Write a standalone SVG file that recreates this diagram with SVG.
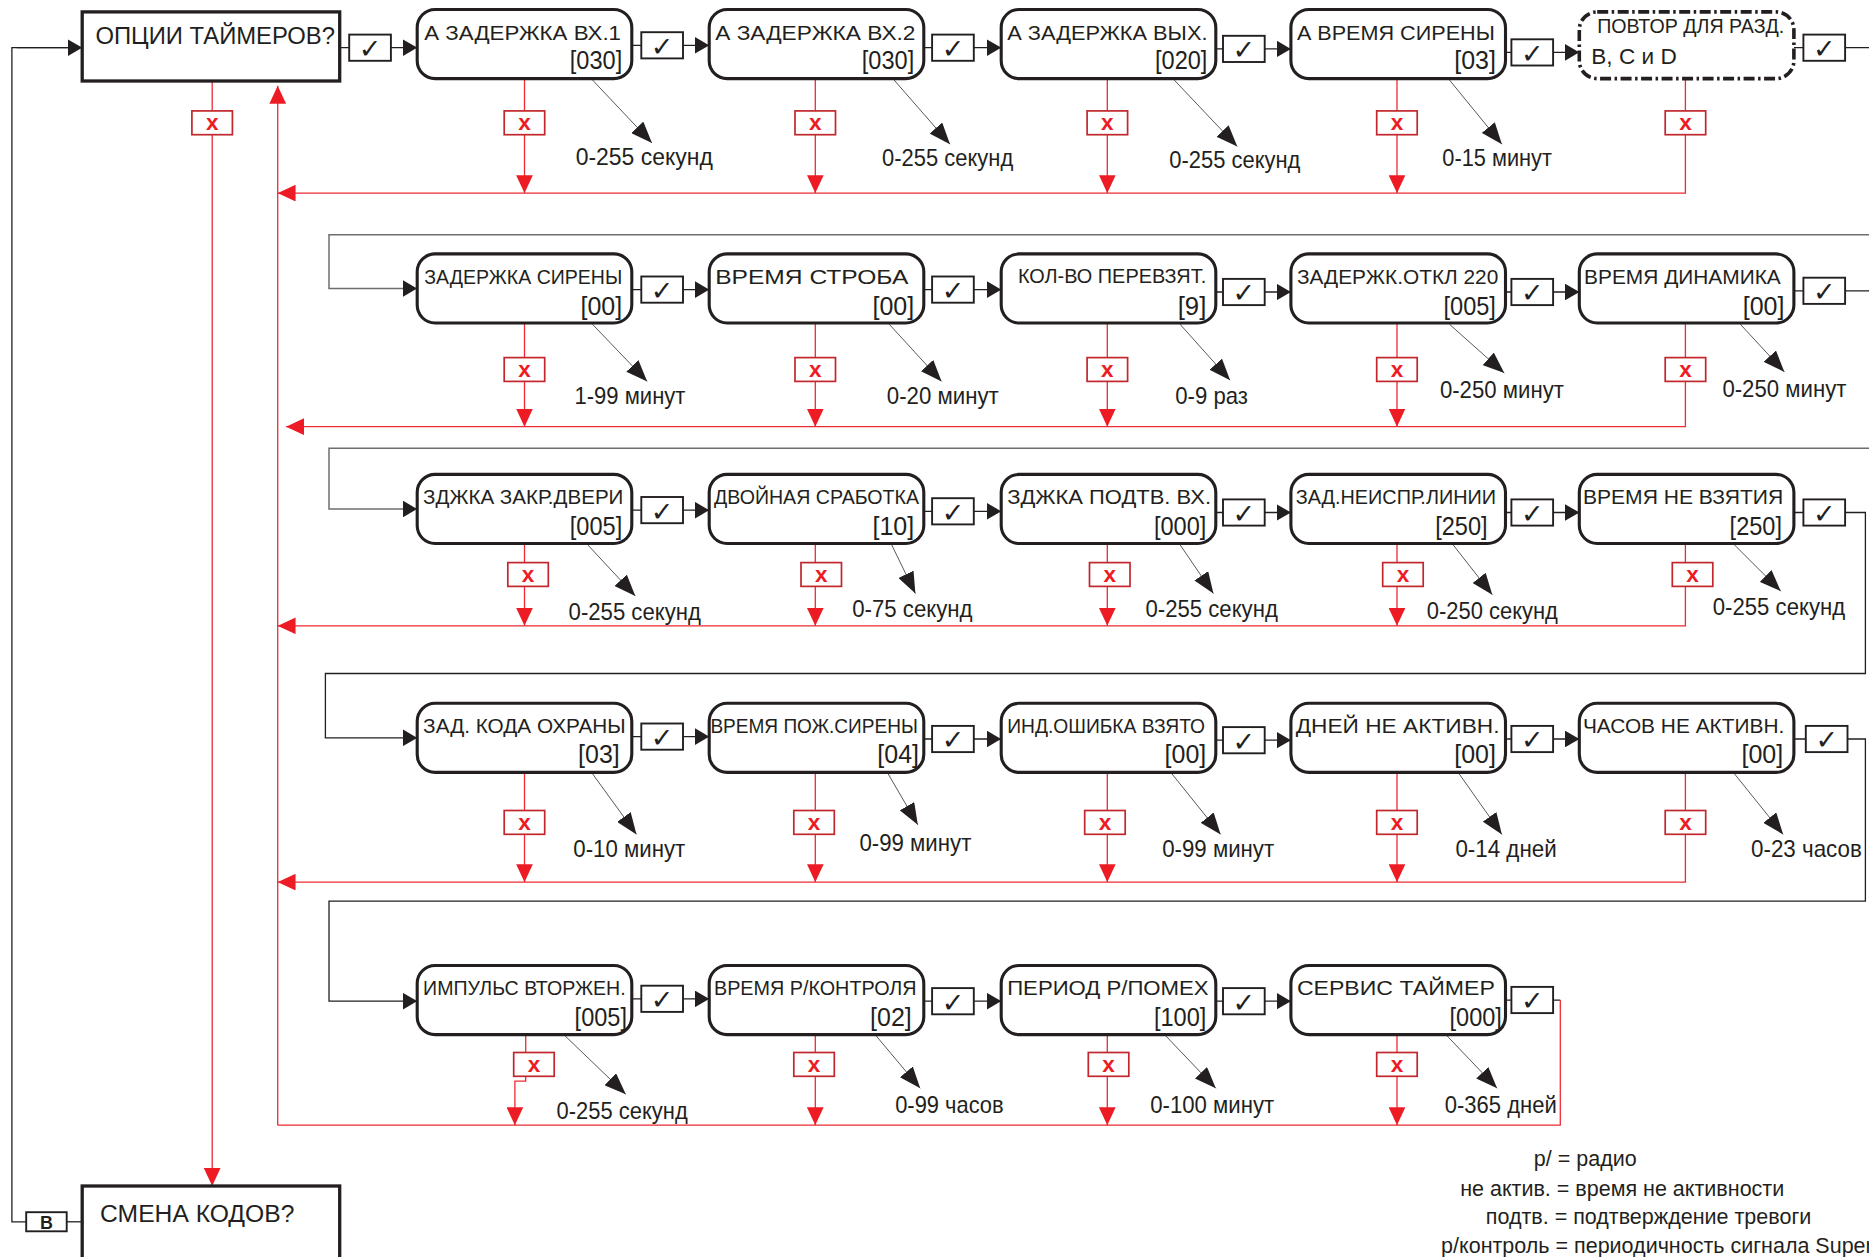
<svg xmlns="http://www.w3.org/2000/svg" width="1869" height="1257" viewBox="0 0 1869 1257">
<defs>
<style>
.box{fill:#fff;stroke:#231f20;stroke-width:3.1}
.sq{fill:#fff;stroke:#231f20;stroke-width:3.3}
.dd{fill:#fff;stroke:#231f20;stroke-width:3.6;stroke-dasharray:11 3.5 2.5 3.5}
.chk{fill:#fff;stroke:#231f20;stroke-width:1.9}
.xb{fill:#fff;stroke:#c1272d;stroke-width:1.7}
.ln{stroke:#231f20;stroke-width:1.3;fill:none}
.gl{stroke:#6d6e71;stroke-width:1.5;fill:none}
.pt{stroke:#58595b;stroke-width:1;fill:none}
.rl{stroke:#ee2a33;stroke-width:1.3;fill:none}
.t{font-family:"Liberation Sans",Arial,sans-serif;fill:#231f20}
.ti{font-size:20.6px}
.va{font-size:25px;text-anchor:end}
.lb{font-size:23.8px}
.lg{font-size:21.5px;text-anchor:middle}
.ck{font-family:"DejaVu Sans",sans-serif;font-size:27px;fill:#231f20;text-anchor:middle}
.xx{font-family:"Liberation Sans",Arial,sans-serif;font-size:22.6px;font-weight:bold;fill:#ed1c24;text-anchor:middle}
</style>
<marker id="ab" viewBox="0 0 12 14" refX="12" refY="7" markerWidth="14.3" markerHeight="16.7" orient="auto" markerUnits="userSpaceOnUse"><path d="M0,0 L12,7 L0,14z" fill="#231f20"/></marker>
<marker id="ar" viewBox="0 0 15 14" refX="15" refY="7" markerWidth="17.9" markerHeight="16.7" orient="auto" markerUnits="userSpaceOnUse"><path d="M0,0 L15,7 L0,14z" fill="#ed1c24"/></marker>
<marker id="ap" viewBox="0 0 18 14" refX="18" refY="7" markerWidth="21.5" markerHeight="16.7" orient="auto" markerUnits="userSpaceOnUse"><path d="M0,0 L18,7 L0,14z" fill="#231f20"/></marker>
</defs>
<rect width="1869" height="1257" fill="#fff"/>

<g id="connectors">
<path class="ln" d="M67.9,47.7 H11.9 V1221.8 H26.2"/>
<path class="ln" d="M16.7,47.7 H82.2" marker-end="url(#ab)"/>
<path class="ln" d="M66.7,1221.8 H82.2"/>
<path class="rl" d="M212.2,81.1 V1186" marker-end="url(#ar)"/>
<path class="rl" d="M277.7,1125.2 V85.8" marker-end="url(#ar)"/>

<path class="ln" d="M339.7,47.7 H349.2 M391,47.7 H417.2" marker-end="url(#ab)"/>
<path class="ln" d="M631.7,45.3 H641.3 M683,45.3 H709.2" marker-end="url(#ab)"/>
<path class="ln" d="M923.8,47.7 H932.1 M973.8,47.7 H1001.2" marker-end="url(#ab)"/>
<path class="ln" d="M1215.8,48.9 H1223 M1264.7,48.9 H1290.9" marker-end="url(#ab)"/>
<path class="ln" d="M1505.4,52.4 H1511.4 M1553.1,52.4 H1579.3" marker-end="url(#ab)"/>
<path class="ln" d="M1793.9,47.7 H1803.4 M1845.2,47.7 H1869"/>
<path class="rl" d="M524.5,78.7 V193.1" marker-end="url(#ar)"/>
<path class="rl" d="M815.3,78.7 V193.1" marker-end="url(#ar)"/>
<path class="rl" d="M1107.3,78.7 V193.1" marker-end="url(#ar)"/>
<path class="rl" d="M1397,78.7 V193.1" marker-end="url(#ar)"/>
<path class="rl" d="M1685.4,78.7 V193.1 H277.7" marker-end="url(#ar)"/>

<path class="gl" d="M1869,234.8 H329 V288.5 H417.2" marker-end="url(#ab)"/>
<path class="ln" d="M631.7,289.6 H641.3 M683,289.6 H709.2" marker-end="url(#ab)"/>
<path class="ln" d="M923.8,289.6 H932.1 M973.8,289.6 H1001.2" marker-end="url(#ab)"/>
<path class="ln" d="M1215.8,292 H1223 M1264.7,292 H1290.9" marker-end="url(#ab)"/>
<path class="ln" d="M1505.4,292 H1511.4 M1553.1,292 H1579.3" marker-end="url(#ab)"/>
<path class="ln" d="M1793.9,290.8 H1803.4 M1845.2,290.8 H1869"/>
<path class="rl" d="M524.5,323 V426.7" marker-end="url(#ar)"/>
<path class="rl" d="M815.3,323 V426.7" marker-end="url(#ar)"/>
<path class="rl" d="M1107.3,323 V426.7" marker-end="url(#ar)"/>
<path class="rl" d="M1397,323 V426.7" marker-end="url(#ar)"/>
<path class="rl" d="M1685.4,323 V426.7 H286.1" marker-end="url(#ar)"/>

<path class="gl" d="M1869,448.2 H329 V509 H417.2" marker-end="url(#ab)"/>
<path class="ln" d="M631.7,510.2 H641.3 M683,510.2 H709.2" marker-end="url(#ab)"/>
<path class="ln" d="M923.8,511.3 H932.1 M973.8,511.3 H1001.2" marker-end="url(#ab)"/>
<path class="ln" d="M1215.8,512.5 H1223 M1264.7,512.5 H1290.9" marker-end="url(#ab)"/>
<path class="ln" d="M1505.4,512.5 H1511.4 M1553.1,512.5 H1579.3" marker-end="url(#ab)"/>
<path class="rl" d="M524.5,543.5 V625.8" marker-end="url(#ar)"/>
<path class="rl" d="M815.3,543.5 V625.8" marker-end="url(#ar)"/>
<path class="rl" d="M1107.3,543.5 V625.8" marker-end="url(#ar)"/>
<path class="rl" d="M1397,543.5 V625.8" marker-end="url(#ar)"/>
<path class="rl" d="M1685.4,543.5 V625.8 H277.7" marker-end="url(#ar)"/>

<path class="ln" d="M1793.9,512.5 H1803.4 M1845.2,512.5 H1865.4 V673.5 H325.4 V737.8 H417.2" marker-end="url(#ab)"/>
<path class="ln" d="M631.7,736.6 H641.3 M683,736.6 H709.2" marker-end="url(#ab)"/>
<path class="ln" d="M923.8,739 H932.1 M973.8,739 H1001.2" marker-end="url(#ab)"/>
<path class="ln" d="M1215.8,740.2 H1223 M1264.7,740.2 H1290.9" marker-end="url(#ab)"/>
<path class="ln" d="M1505.4,739 H1511.4 M1553.1,739 H1579.3" marker-end="url(#ab)"/>
<path class="rl" d="M524.5,772.4 V882.1" marker-end="url(#ar)"/>
<path class="rl" d="M815.3,772.4 V882.1" marker-end="url(#ar)"/>
<path class="rl" d="M1107.3,772.4 V882.1" marker-end="url(#ar)"/>
<path class="rl" d="M1397,772.4 V882.1" marker-end="url(#ar)"/>
<path class="rl" d="M1685.4,772.4 V882.1 H277.7" marker-end="url(#ar)"/>

<path class="ln" d="M1793.9,739 H1805.8 M1847.5,739 H1865.4 V901.1 H329 V1001.2 H417.2" marker-end="url(#ab)"/>
<path class="ln" d="M631.7,998.9 H641.3 M683,998.9 H709.2" marker-end="url(#ab)"/>
<path class="ln" d="M923.8,1001.2 H932.1 M973.8,1001.2 H1001.2" marker-end="url(#ab)"/>
<path class="ln" d="M1215.8,1001.2 H1223 M1264.7,1001.2 H1290.9" marker-end="url(#ab)"/>
<path class="ln" d="M1505.4,1000.1 H1511.4 M1553.1,1000.1 H1560.3"/>
<path class="rl" d="M1560.3,1000.1 V1125.2 H277.7"/>
<path class="rl" d="M525.7,1034.6 V1081.1 H514.9 V1125.2" marker-end="url(#ar)"/>
<path class="rl" d="M815.3,1034.6 V1125.2" marker-end="url(#ar)"/>
<path class="rl" d="M1107.3,1034.6 V1125.2" marker-end="url(#ar)"/>
<path class="rl" d="M1397,1034.6 V1125.2" marker-end="url(#ar)"/>

<path class="pt" d="M592.4,79.9 L652,143" marker-end="url(#ap)"/>
<path class="pt" d="M894,79.9 L950,144.2" marker-end="url(#ap)"/>
<path class="pt" d="M1174.1,79.9 L1237.3,146.6" marker-end="url(#ap)"/>
<path class="pt" d="M1449.4,79.9 L1501.9,144.2" marker-end="url(#ap)"/>
<path class="pt" d="M592.4,324.2 L647.2,381.4" marker-end="url(#ap)"/>
<path class="pt" d="M889.2,324.2 L941.6,381.4" marker-end="url(#ap)"/>
<path class="pt" d="M1180,324.2 L1230.1,380.2" marker-end="url(#ap)"/>
<path class="pt" d="M1449.4,324.2 L1504.3,373.1" marker-end="url(#ap)"/>
<path class="pt" d="M1740.3,324.2 L1784.4,371.9" marker-end="url(#ap)"/>
<path class="pt" d="M587.6,544.7 L635.3,596" marker-end="url(#ap)"/>
<path class="pt" d="M891.6,544.7 L915.4,593.6" marker-end="url(#ap)"/>
<path class="pt" d="M1180,544.7 L1213.4,593.6" marker-end="url(#ap)"/>
<path class="pt" d="M1453,544.7 L1492.3,594.8" marker-end="url(#ap)"/>
<path class="pt" d="M1734.3,544.7 L1780.8,591.2" marker-end="url(#ap)"/>
<path class="pt" d="M592.4,773.6 L636.5,834.4" marker-end="url(#ap)"/>
<path class="pt" d="M888,773.6 L917.8,824.8" marker-end="url(#ap)"/>
<path class="pt" d="M1171.7,773.6 L1220.6,834.4" marker-end="url(#ap)"/>
<path class="pt" d="M1459,773.6 L1501.9,834.4" marker-end="url(#ap)"/>
<path class="pt" d="M1734.3,773.6 L1783.2,834.4" marker-end="url(#ap)"/>
<path class="pt" d="M565,1035.8 L625.8,1094.2" marker-end="url(#ap)"/>
<path class="pt" d="M876.1,1035.8 L920.2,1088.3" marker-end="url(#ap)"/>
<path class="pt" d="M1165.7,1035.8 L1215.8,1088.3" marker-end="url(#ap)"/>
<path class="pt" d="M1447,1035.8 L1497.1,1088.3" marker-end="url(#ap)"/>

<g id="checks">
<rect class="chk" x="349.2" y="34.6" width="41.7" height="26.2"/><text class="ck" x="370.1" y="58.1">✓</text>
<rect class="chk" x="641.3" y="32.2" width="41.7" height="26.2"/><text class="ck" x="662.1" y="55.7">✓</text>
<rect class="chk" x="932.1" y="34.6" width="41.7" height="26.2"/><text class="ck" x="953" y="58.1">✓</text>
<rect class="chk" x="1223" y="35.8" width="41.7" height="26.2"/><text class="ck" x="1243.8" y="59.3">✓</text>
<rect class="chk" x="1511.4" y="39.3" width="41.7" height="26.2"/><text class="ck" x="1532.3" y="62.8">✓</text>
<rect class="chk" x="1803.4" y="34.6" width="41.7" height="26.2"/><text class="ck" x="1824.3" y="58.1">✓</text>

<rect class="chk" x="641.3" y="276.5" width="41.7" height="26.2"/><text class="ck" x="662.1" y="300">✓</text>
<rect class="chk" x="932.1" y="276.5" width="41.7" height="26.2"/><text class="ck" x="953" y="300">✓</text>
<rect class="chk" x="1223" y="278.9" width="41.7" height="26.2"/><text class="ck" x="1243.8" y="302.4">✓</text>
<rect class="chk" x="1511.4" y="278.9" width="41.7" height="26.2"/><text class="ck" x="1532.3" y="302.4">✓</text>
<rect class="chk" x="1803.4" y="277.7" width="41.7" height="26.2"/><text class="ck" x="1824.3" y="301.2">✓</text>

<rect class="chk" x="641.3" y="497" width="41.7" height="26.2"/><text class="ck" x="662.1" y="520.5">✓</text>
<rect class="chk" x="932.1" y="498.2" width="41.7" height="26.2"/><text class="ck" x="953" y="521.7">✓</text>
<rect class="chk" x="1223" y="499.4" width="41.7" height="26.2"/><text class="ck" x="1243.8" y="522.9">✓</text>
<rect class="chk" x="1511.4" y="499.4" width="41.7" height="26.2"/><text class="ck" x="1532.3" y="522.9">✓</text>
<rect class="chk" x="1803.4" y="499.4" width="41.7" height="26.2"/><text class="ck" x="1824.3" y="522.9">✓</text>

<rect class="chk" x="641.3" y="723.5" width="41.7" height="26.2"/><text class="ck" x="662.1" y="747">✓</text>
<rect class="chk" x="932.1" y="725.9" width="41.7" height="26.2"/><text class="ck" x="953" y="749.4">✓</text>
<rect class="chk" x="1223" y="727.1" width="41.7" height="26.2"/><text class="ck" x="1243.8" y="750.6">✓</text>
<rect class="chk" x="1511.4" y="725.9" width="41.7" height="26.2"/><text class="ck" x="1532.3" y="749.4">✓</text>
<rect class="chk" x="1805.8" y="725.9" width="41.7" height="26.2"/><text class="ck" x="1826.7" y="749.4">✓</text>

<rect class="chk" x="641.3" y="985.7" width="41.7" height="26.2"/><text class="ck" x="662.1" y="1009.2">✓</text>
<rect class="chk" x="932.1" y="988.1" width="41.7" height="26.2"/><text class="ck" x="953" y="1011.6">✓</text>
<rect class="chk" x="1223" y="988.1" width="41.7" height="26.2"/><text class="ck" x="1243.8" y="1011.6">✓</text>
<rect class="chk" x="1511.4" y="986.9" width="41.7" height="26.2"/><text class="ck" x="1532.3" y="1010.4">✓</text>

<rect class="chk" x="26.2" y="1212.2" width="40.5" height="19.1"/>
<text class="t" x="46.5" y="1228.6" font-size="17.9" font-weight="bold" text-anchor="middle">B</text>
</g>

<g id="cancels">
<rect class="xb" x="191.9" y="110.9" width="40.5" height="23.8"/><text class="xx" x="212.2" y="130">x</text>
<rect class="xb" x="504.2" y="110.9" width="40.5" height="23.8"/><text class="xx" x="524.5" y="130">x</text>
<rect class="xb" x="795" y="110.9" width="40.5" height="23.8"/><text class="xx" x="815.3" y="130">x</text>
<rect class="xb" x="1087.1" y="110.9" width="40.5" height="23.8"/><text class="xx" x="1107.4" y="130">x</text>
<rect class="xb" x="1376.7" y="110.9" width="40.5" height="23.8"/><text class="xx" x="1397" y="130">x</text>
<rect class="xb" x="1665.2" y="110.9" width="40.5" height="23.8"/><text class="xx" x="1685.5" y="130">x</text>

<rect class="xb" x="504.2" y="357.6" width="40.5" height="23.8"/><text class="xx" x="524.5" y="376.7">x</text>
<rect class="xb" x="795" y="357.6" width="40.5" height="23.8"/><text class="xx" x="815.3" y="376.7">x</text>
<rect class="xb" x="1087.1" y="357.6" width="40.5" height="23.8"/><text class="xx" x="1107.4" y="376.7">x</text>
<rect class="xb" x="1376.7" y="357.6" width="40.5" height="23.8"/><text class="xx" x="1397" y="376.7">x</text>
<rect class="xb" x="1665.2" y="357.6" width="40.5" height="23.8"/><text class="xx" x="1685.5" y="376.7">x</text>

<rect class="xb" x="507.8" y="562.6" width="40.5" height="23.8"/><text class="xx" x="528.1" y="581.7">x</text>
<rect class="xb" x="801" y="562.6" width="40.5" height="23.8"/><text class="xx" x="821.3" y="581.7">x</text>
<rect class="xb" x="1089.5" y="562.6" width="40.5" height="23.8"/><text class="xx" x="1109.8" y="581.7">x</text>
<rect class="xb" x="1382.7" y="562.6" width="40.5" height="23.8"/><text class="xx" x="1403" y="581.7">x</text>
<rect class="xb" x="1672.3" y="562.6" width="40.5" height="23.8"/><text class="xx" x="1692.6" y="581.7">x</text>

<rect class="xb" x="504.2" y="810.5" width="40.5" height="23.8"/><text class="xx" x="524.5" y="829.6">x</text>
<rect class="xb" x="793.8" y="810.5" width="40.5" height="23.8"/><text class="xx" x="814.1" y="829.6">x</text>
<rect class="xb" x="1084.7" y="810.5" width="40.5" height="23.8"/><text class="xx" x="1105" y="829.6">x</text>
<rect class="xb" x="1376.7" y="810.5" width="40.5" height="23.8"/><text class="xx" x="1397" y="829.6">x</text>
<rect class="xb" x="1665.2" y="810.5" width="40.5" height="23.8"/><text class="xx" x="1685.5" y="829.6">x</text>

<rect class="xb" x="513.7" y="1052.5" width="40.5" height="23.8"/><text class="xx" x="534" y="1071.6">x</text>
<rect class="xb" x="793.8" y="1052.5" width="40.5" height="23.8"/><text class="xx" x="814.1" y="1071.6">x</text>
<rect class="xb" x="1088.3" y="1052.5" width="40.5" height="23.8"/><text class="xx" x="1108.6" y="1071.6">x</text>
<rect class="xb" x="1376.7" y="1052.5" width="40.5" height="23.8"/><text class="xx" x="1397" y="1071.6">x</text>
</g>
</g>

<g id="n-options"><rect class="sq" x="82.2" y="11.9" width="257.5" height="69.1"/><text class="t" x="95.4" y="43.5" font-size="23.8" textLength="239.6" lengthAdjust="spacingAndGlyphs">ОПЦИИ ТАЙМЕРОВ?</text></g>
<g id="n-codes"><rect class="sq" x="82.2" y="1186" width="257.5" height="83.4"/><text class="t" x="100.1" y="1221.8" font-size="24.5" textLength="194.3" lengthAdjust="spacingAndGlyphs">СМЕНА КОДОВ?</text></g>

<g id="n-a1"><rect class="box" x="417.2" y="9.5" width="214.6" height="69.1" rx="17.9"/><text class="t ti" x="424.3" y="40" textLength="196.7" lengthAdjust="spacingAndGlyphs">А ЗАДЕРЖКА ВХ.1</text><text class="t va" x="622.2" y="69.1" textLength="52.4" lengthAdjust="spacingAndGlyphs">[030]</text></g>
<g id="n-a2"><rect class="box" x="709.2" y="9.5" width="214.6" height="69.1" rx="17.9"/><text class="t ti" x="715.2" y="40" textLength="200.3" lengthAdjust="spacingAndGlyphs">А ЗАДЕРЖКА ВХ.2</text><text class="t va" x="914.2" y="69.1" textLength="52.4" lengthAdjust="spacingAndGlyphs">[030]</text></g>
<g id="n-a3"><rect class="box" x="1001.2" y="9.5" width="214.6" height="69.1" rx="17.9"/><text class="t ti" x="1007.2" y="40" textLength="200.3" lengthAdjust="spacingAndGlyphs">А ЗАДЕРЖКА ВЫХ.</text><text class="t va" x="1207.4" y="69.1" textLength="52.4" lengthAdjust="spacingAndGlyphs">[020]</text></g>
<g id="n-a4"><rect class="box" x="1290.9" y="9.5" width="214.6" height="69.1" rx="17.9"/><text class="t ti" x="1296.9" y="40" textLength="197.9" lengthAdjust="spacingAndGlyphs">А ВРЕМЯ СИРЕНЫ</text><text class="t va" x="1495.9" y="69.1" textLength="41.7" lengthAdjust="spacingAndGlyphs">[03]</text></g>
<g id="n-a5"><rect class="dd" x="1579.3" y="11.9" width="214.6" height="66.7" rx="17.9"/><text class="t ti" x="1597.2" y="33.4" textLength="187.1" lengthAdjust="spacingAndGlyphs">ПОВТОР ДЛЯ РАЗД.</text><text class="t" x="1591.3" y="64.4" font-size="22.6">B, C и D</text></g>

<g id="n-b1"><rect class="box" x="417.2" y="253.9" width="214.6" height="69.1" rx="17.9"/><text class="t ti" x="424.3" y="284.4" textLength="197.9" lengthAdjust="spacingAndGlyphs">ЗАДЕРЖКА СИРЕНЫ</text><text class="t va" x="622.2" y="314.7" textLength="41.7" lengthAdjust="spacingAndGlyphs">[00]</text></g>
<g id="n-b2"><rect class="box" x="709.2" y="253.9" width="214.6" height="69.1" rx="17.9"/><text class="t ti" x="715.2" y="284.4" textLength="193.1" lengthAdjust="spacingAndGlyphs">ВРЕМЯ СТРОБА</text><text class="t va" x="914.2" y="314.7" textLength="41.7" lengthAdjust="spacingAndGlyphs">[00]</text></g>
<g id="n-b3"><rect class="box" x="1001.2" y="253.9" width="214.6" height="69.1" rx="17.9"/><text class="t ti" x="1017.9" y="282.5" textLength="188.3" lengthAdjust="spacingAndGlyphs">КОЛ-ВО ПЕРЕВЗЯТ.</text><text class="t va" x="1206.3" y="314.7" textLength="28.6" lengthAdjust="spacingAndGlyphs">[9]</text></g>
<g id="n-b4"><rect class="box" x="1290.9" y="253.9" width="214.6" height="69.1" rx="17.9"/><text class="t ti" x="1296.9" y="284.4" textLength="201.4" lengthAdjust="spacingAndGlyphs">ЗАДЕРЖК.ОТКЛ 220</text><text class="t va" x="1495.9" y="314.7" textLength="52.4" lengthAdjust="spacingAndGlyphs">[005]</text></g>
<g id="n-b5"><rect class="box" x="1579.3" y="253.9" width="214.6" height="69.1" rx="17.9"/><text class="t ti" x="1584.1" y="284.4" textLength="196.7" lengthAdjust="spacingAndGlyphs">ВРЕМЯ ДИНАМИКА</text><text class="t va" x="1784.4" y="314.7" textLength="41.7" lengthAdjust="spacingAndGlyphs">[00]</text></g>

<g id="n-c1"><rect class="box" x="417.2" y="474.4" width="214.6" height="69.1" rx="17.9"/><text class="t ti" x="423.1" y="504.2" textLength="200.3" lengthAdjust="spacingAndGlyphs">ЗДЖКА ЗАКР.ДВЕРИ</text><text class="t va" x="622.2" y="535.2" textLength="52.4" lengthAdjust="spacingAndGlyphs">[005]</text></g>
<g id="n-c2"><rect class="box" x="709.2" y="474.4" width="214.6" height="69.1" rx="17.9"/><text class="t ti" x="714" y="504.2" textLength="205" lengthAdjust="spacingAndGlyphs">ДВОЙНАЯ СРАБОТКА</text><text class="t va" x="914.2" y="535.2" textLength="41.7" lengthAdjust="spacingAndGlyphs">[10]</text></g>
<g id="n-c3"><rect class="box" x="1001.2" y="474.4" width="214.6" height="69.1" rx="17.9"/><text class="t ti" x="1007.2" y="504.2" textLength="203.8" lengthAdjust="spacingAndGlyphs">ЗДЖКА ПОДТВ. ВХ.</text><text class="t va" x="1206.3" y="535.2" textLength="52.4" lengthAdjust="spacingAndGlyphs">[000]</text></g>
<g id="n-c4"><rect class="box" x="1290.9" y="474.4" width="214.6" height="69.1" rx="17.9"/><text class="t ti" x="1295.7" y="504.2" textLength="200.3" lengthAdjust="spacingAndGlyphs">ЗАД.НЕИСПР.ЛИНИИ</text><text class="t va" x="1487.6" y="535.2" textLength="52.4" lengthAdjust="spacingAndGlyphs">[250]</text></g>
<g id="n-c5"><rect class="box" x="1579.3" y="474.4" width="214.6" height="69.1" rx="17.9"/><text class="t ti" x="1582.9" y="504.2" textLength="200.3" lengthAdjust="spacingAndGlyphs">ВРЕМЯ НЕ ВЗЯТИЯ</text><text class="t va" x="1782" y="535.2" textLength="52.4" lengthAdjust="spacingAndGlyphs">[250]</text></g>

<g id="n-d1"><rect class="box" x="417.2" y="703.3" width="214.6" height="69.1" rx="17.9"/><text class="t ti" x="423.1" y="733.1" textLength="202.6" lengthAdjust="spacingAndGlyphs">ЗАД. КОДА ОХРАНЫ</text><text class="t va" x="619.8" y="762.9" textLength="41.7" lengthAdjust="spacingAndGlyphs">[03]</text></g>
<g id="n-d2"><rect class="box" x="709.2" y="703.3" width="214.6" height="69.1" rx="17.9"/><text class="t ti" x="710.4" y="733.1" textLength="207.4" lengthAdjust="spacingAndGlyphs">ВРЕМЯ ПОЖ.СИРЕНЫ</text><text class="t va" x="919" y="762.9" textLength="41.7" lengthAdjust="spacingAndGlyphs">[04]</text></g>
<g id="n-d3"><rect class="box" x="1001.2" y="703.3" width="214.6" height="69.1" rx="17.9"/><text class="t ti" x="1007.2" y="733.1" textLength="197.9" lengthAdjust="spacingAndGlyphs">ИНД.ОШИБКА ВЗЯТО</text><text class="t va" x="1206.3" y="762.9" textLength="41.7" lengthAdjust="spacingAndGlyphs">[00]</text></g>
<g id="n-d4"><rect class="box" x="1290.9" y="703.3" width="214.6" height="69.1" rx="17.9"/><text class="t ti" x="1295.7" y="733.1" textLength="203.8" lengthAdjust="spacingAndGlyphs">ДНЕЙ НЕ АКТИВН.</text><text class="t va" x="1495.9" y="762.9" textLength="41.7" lengthAdjust="spacingAndGlyphs">[00]</text></g>
<g id="n-d5"><rect class="box" x="1579.3" y="703.3" width="214.6" height="69.1" rx="17.9"/><text class="t ti" x="1582.9" y="733.1" textLength="201.4" lengthAdjust="spacingAndGlyphs">ЧАСОВ НЕ АКТИВН.</text><text class="t va" x="1783.2" y="762.9" textLength="41.7" lengthAdjust="spacingAndGlyphs">[00]</text></g>

<g id="n-e1"><rect class="box" x="417.2" y="965.5" width="214.6" height="69.1" rx="17.9"/><text class="t ti" x="423.1" y="995.3" textLength="202.6" lengthAdjust="spacingAndGlyphs">ИМПУЛЬС ВТОРЖЕН.</text><text class="t va" x="627" y="1026.3" textLength="52.4" lengthAdjust="spacingAndGlyphs">[005]</text></g>
<g id="n-e2"><rect class="box" x="709.2" y="965.5" width="214.6" height="69.1" rx="17.9"/><text class="t ti" x="714" y="995.3" textLength="202.6" lengthAdjust="spacingAndGlyphs">ВРЕМЯ Р/КОНТРОЛЯ</text><text class="t va" x="911.8" y="1026.3" textLength="41.7" lengthAdjust="spacingAndGlyphs">[02]</text></g>
<g id="n-e3"><rect class="box" x="1001.2" y="965.5" width="214.6" height="69.1" rx="17.9"/><text class="t ti" x="1007.2" y="995.3" textLength="201.4" lengthAdjust="spacingAndGlyphs">ПЕРИОД Р/ПОМЕХ</text><text class="t va" x="1206.3" y="1026.3" textLength="52.4" lengthAdjust="spacingAndGlyphs">[100]</text></g>
<g id="n-e4"><rect class="box" x="1290.9" y="965.5" width="214.6" height="69.1" rx="17.9"/><text class="t ti" x="1296.9" y="995.3" textLength="197.9" lengthAdjust="spacingAndGlyphs">СЕРВИС ТАЙМЕР</text><text class="t va" x="1501.9" y="1026.3" textLength="52.4" lengthAdjust="spacingAndGlyphs">[000]</text></g>

<g id="ranges" class="t lb">
<text x="575.7" y="164.5" textLength="137.1" lengthAdjust="spacingAndGlyphs">0-255 секунд</text>
<text x="882.1" y="165.7" textLength="131.1" lengthAdjust="spacingAndGlyphs">0-255 секунд</text>
<text x="1169.3" y="168.1" textLength="131.1" lengthAdjust="spacingAndGlyphs">0-255 секунд</text>
<text x="1442.3" y="165.7" textLength="109.7" lengthAdjust="spacingAndGlyphs">0-15 минут</text>
<text x="574.5" y="404.1" textLength="110.9" lengthAdjust="spacingAndGlyphs">1-99 минут</text>
<text x="886.8" y="404.1" textLength="112" lengthAdjust="spacingAndGlyphs">0-20 минут</text>
<text x="1175.3" y="404.1" textLength="72.7" lengthAdjust="spacingAndGlyphs">0-9 раз</text>
<text x="1439.9" y="398.1" textLength="124" lengthAdjust="spacingAndGlyphs">0-250 минут</text>
<text x="1722.4" y="396.9" textLength="124" lengthAdjust="spacingAndGlyphs">0-250 минут</text>
<text x="568.6" y="619.8" textLength="132.3" lengthAdjust="spacingAndGlyphs">0-255 секунд</text>
<text x="852.2" y="617.4" textLength="120.4" lengthAdjust="spacingAndGlyphs">0-75 секунд</text>
<text x="1145.5" y="617.4" textLength="132.3" lengthAdjust="spacingAndGlyphs">0-255 секунд</text>
<text x="1426.8" y="618.6" textLength="131.1" lengthAdjust="spacingAndGlyphs">0-250 секунд</text>
<text x="1712.8" y="615.1" textLength="132.3" lengthAdjust="spacingAndGlyphs">0-255 секунд</text>
<text x="573.3" y="857" textLength="112" lengthAdjust="spacingAndGlyphs">0-10 минут</text>
<text x="859.4" y="851.1" textLength="112" lengthAdjust="spacingAndGlyphs">0-99 минут</text>
<text x="1162.2" y="857" textLength="112" lengthAdjust="spacingAndGlyphs">0-99 минут</text>
<text x="1455.4" y="857" textLength="101.3" lengthAdjust="spacingAndGlyphs">0-14 дней</text>
<text x="1751" y="857" textLength="110.9" lengthAdjust="spacingAndGlyphs">0-23 часов</text>
<text x="556.6" y="1119.3" textLength="131.1" lengthAdjust="spacingAndGlyphs">0-255 секунд</text>
<text x="895.2" y="1113.3" textLength="108.5" lengthAdjust="spacingAndGlyphs">0-99 часов</text>
<text x="1150.2" y="1113.3" textLength="124" lengthAdjust="spacingAndGlyphs">0-100 минут</text>
<text x="1444.7" y="1113.3" textLength="112" lengthAdjust="spacingAndGlyphs">0-365 дней</text>
</g>

<g id="legend" class="t lg">
<text x="1585.3" y="1165.7">р/ = радио</text>
<text x="1622.2" y="1195.5">не актив. = время не активности</text>
<text x="1648.5" y="1224.2">подтв. = подтверждение тревоги</text>
<text x="1441.1" y="1252.7" style="text-anchor:start">р/контроль = периодичность сигнала Super</text>
</g>
</svg>
